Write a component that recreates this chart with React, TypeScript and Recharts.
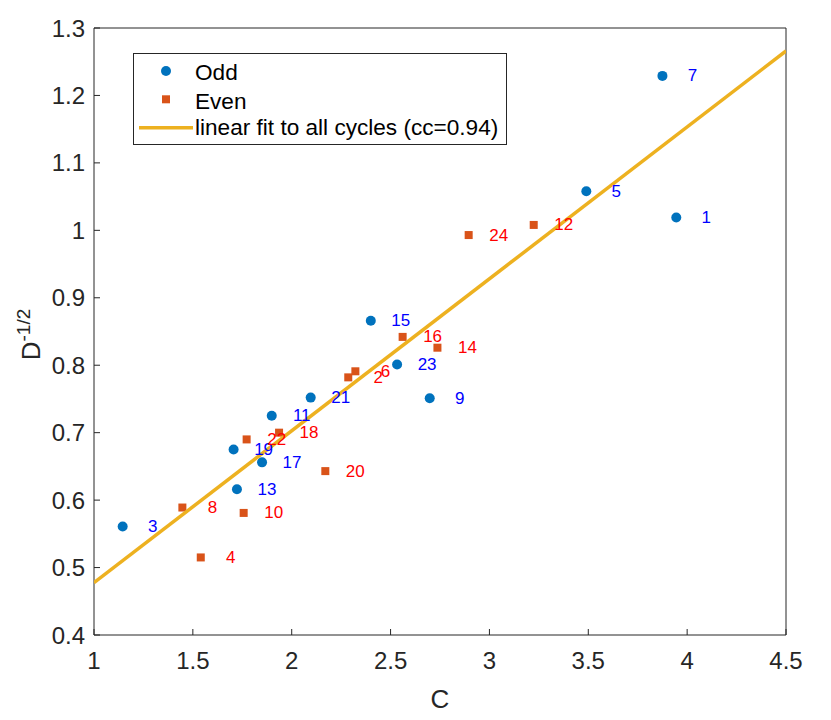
import React from 'react';
import { ScatterChart, Scatter, XAxis, YAxis, Legend } from 'recharts';

const FONT = '"Liberation Sans", Arial, Helvetica, sans-serif';
const TEXT_COLOR = '#262626';
const ODD_COLOR = '#0072BD';
const EVEN_COLOR = '#D95319';
const FIT_COLOR = '#EDB120';
const ODD_LABEL_COLOR = '#0000FF';
const EVEN_LABEL_COLOR = '#FF0000';

const oddCycles = [1, 3, 5, 7, 9, 11, 13, 15, 17, 19, 21, 23];
const oddC = [3.945, 1.145, 3.49, 3.875, 2.698, 1.899, 1.723, 2.4, 1.85, 1.706, 2.096, 2.533];
const oddD = [1.019, 0.561, 1.058, 1.229, 0.751, 0.725, 0.616, 0.866, 0.656, 0.675, 0.752, 0.801];

const evenCycles = [2, 4, 6, 8, 10, 12, 14, 16, 18, 20, 22, 24];
const evenC = [2.286, 1.54, 2.322, 1.447, 1.757, 3.224, 2.737, 2.561, 1.936, 2.17, 1.772, 2.895];
const evenD = [0.782, 0.515, 0.791, 0.589, 0.581, 1.008, 0.826, 0.842, 0.7, 0.643, 0.69, 0.993];

const fitC = [1, 4.5];
const fitD = [0.4775, 1.266];

const xTicks = [1, 1.5, 2, 2.5, 3, 3.5, 4, 4.5];
const yTicks = [0.4, 0.5, 0.6, 0.7, 0.8, 0.9, 1, 1.1, 1.2, 1.3];

const legendNames = ['Odd', 'Even', 'linear fit to all cycles (cc=0.94)'];

const oddData = oddCycles.map((n, i) => ({ c: oddC[i], d: oddD[i], n }));
const evenData = evenCycles.map((n, i) => ({ c: evenC[i], d: evenD[i], n }));
const fitData = fitC.map((c, i) => ({ c, d: fitD[i] }));

const OddMarker = (p: any) => <circle cx={p.cx} cy={p.cy} r={5} fill={ODD_COLOR} />;
const EvenMarker = (p: any) => (
  <rect x={p.cx - 4} y={p.cy - 4} width={8} height={8} fill={EVEN_COLOR} />
);
const Empty = () => <g />;

const makeLabel = (color: string) => (p: any) => (
  <text
    x={p.cx + 30}
    y={p.cy}
    textAnchor="middle"
    dominantBaseline="central"
    fill={color}
    fontSize={17}
    fontFamily={FONT}
  >
    {p.payload.n}
  </text>
);
const OddLabel = makeLabel(ODD_LABEL_COLOR);
const EvenLabel = makeLabel(EVEN_LABEL_COLOR);

const XTitle = (props: any) => {
  const vb = props.viewBox;
  return (
    <text
      x={vb.x + vb.width / 2}
      y={vb.y + 73}
      textAnchor="middle"
      fontSize={26}
      fontFamily={FONT}
      fill={TEXT_COLOR}
    >
      C
    </text>
  );
};

const YTitle = (props: any) => {
  const vb = props.viewBox;
  const x = vb.x - 53;
  const cy = vb.y + vb.height / 2 + 3;
  return (
    <text
      transform={`rotate(-90 ${x} ${cy})`}
      x={x}
      y={cy}
      textAnchor="middle"
      fontSize={26}
      fontFamily={FONT}
      fill={TEXT_COLOR}
    >
      D
      <tspan fontSize={19} dy={-10}>
        -1/2
      </tspan>
    </text>
  );
};

const LegendBox = () => (
  <svg width={374} height={92} style={{ display: 'block' }}>
    <rect x={0.5} y={0.5} width={373} height={91} fill="#ffffff" stroke={TEXT_COLOR} strokeWidth={1} />
    <circle cx={33} cy={18} r={5} fill={ODD_COLOR} />
    <rect x={29} y={42.3} width={8} height={8} fill={EVEN_COLOR} />
    <line x1={6} x2={60} y1={74.7} y2={74.7} stroke={FIT_COLOR} strokeWidth={3.5} />
    {legendNames.map((name, i) => (
      <text
        key={name}
        x={62}
        y={[19.5, 48.2, 74.7][i]}
        dominantBaseline="central"
        fontSize={22.6}
        fontFamily={FONT}
        fill="#000000"
      >
        {name}
      </text>
    ))}
  </svg>
);

const fmt = (v: number) => String(v);

export default function App() {
  return (
    <div style={{ position: 'absolute', left: 0, top: 0, width: 831, height: 720, background: '#ffffff' }}>
      <ScatterChart
        width={831}
        height={720}
        margin={{ top: 27, right: 44, bottom: 84, left: 93 }}
        style={{ fontFamily: FONT }}
      >
        <XAxis
          xAxisId="b"
          type="number"
          dataKey="c"
          orientation="bottom"
          domain={[1, 4.5]}
          allowDataOverflow
          ticks={xTicks}
          interval={0}
          height={1}
          tickSize={-6}
          tickMargin={23}
          tickFormatter={fmt}
          tick={{ fill: TEXT_COLOR, fontSize: 24, fontFamily: FONT }}
          axisLine={{ stroke: TEXT_COLOR, strokeWidth: 1 }}
          tickLine={{ stroke: TEXT_COLOR, strokeWidth: 1 }}
          label={{ content: (p: any) => <XTitle {...p} /> }}
        />
        <XAxis
          xAxisId="t"
          type="number"
          dataKey="c"
          orientation="top"
          domain={[1, 4.5]}
          allowDataOverflow
          ticks={xTicks}
          interval={0}
          height={1}
          tickSize={-6}
          tick={false}
          axisLine={{ stroke: TEXT_COLOR, strokeWidth: 1 }}
          tickLine={{ stroke: TEXT_COLOR, strokeWidth: 1 }}
        />
        <YAxis
          yAxisId="l"
          type="number"
          dataKey="d"
          orientation="left"
          domain={[0.4, 1.3]}
          allowDataOverflow
          ticks={yTicks}
          interval={0}
          width={1}
          tickSize={-6}
          tickMargin={15}
          tickFormatter={fmt}
          tick={{ fill: TEXT_COLOR, fontSize: 24, fontFamily: FONT }}
          axisLine={{ stroke: TEXT_COLOR, strokeWidth: 1 }}
          tickLine={{ stroke: TEXT_COLOR, strokeWidth: 1 }}
          label={{ content: (p: any) => <YTitle {...p} /> }}
        />
        <YAxis
          yAxisId="r"
          type="number"
          dataKey="d"
          orientation="right"
          domain={[0.4, 1.3]}
          allowDataOverflow
          ticks={yTicks}
          interval={0}
          width={1}
          tickSize={-6}
          tick={false}
          axisLine={{ stroke: TEXT_COLOR, strokeWidth: 1 }}
          tickLine={{ stroke: TEXT_COLOR, strokeWidth: 1 }}
        />
        <Scatter
          name="frame"
          data={fitData}
          xAxisId="t"
          yAxisId="r"
          shape={Empty}
          legendType="none"
          isAnimationActive={false}
        />
        <Scatter
          name={legendNames[0]}
          data={oddData}
          xAxisId="b"
          yAxisId="l"
          shape={OddMarker}
          isAnimationActive={false}
        />
        <Scatter
          name={legendNames[1]}
          data={evenData}
          xAxisId="b"
          yAxisId="l"
          shape={EvenMarker}
          isAnimationActive={false}
        />
        <Scatter
          name={legendNames[2]}
          data={fitData}
          xAxisId="b"
          yAxisId="l"
          shape={Empty}
          line={{ stroke: FIT_COLOR, strokeWidth: 3.5 }}
          lineType="joint"
          isAnimationActive={false}
        />
        <Scatter
          name="oddLabels"
          data={oddData}
          xAxisId="b"
          yAxisId="l"
          shape={OddLabel}
          legendType="none"
          isAnimationActive={false}
        />
        <Scatter
          name="evenLabels"
          data={evenData}
          xAxisId="b"
          yAxisId="l"
          shape={EvenLabel}
          legendType="none"
          isAnimationActive={false}
        />
        <Legend
          layout="vertical"
          align="center"
          verticalAlign="middle"
          wrapperStyle={{ position: 'absolute', left: 133, top: 53, width: 374, height: 92, margin: 0, padding: 0 }}
          content={() => <LegendBox />}
        />
      </ScatterChart>
    </div>
  );
}
